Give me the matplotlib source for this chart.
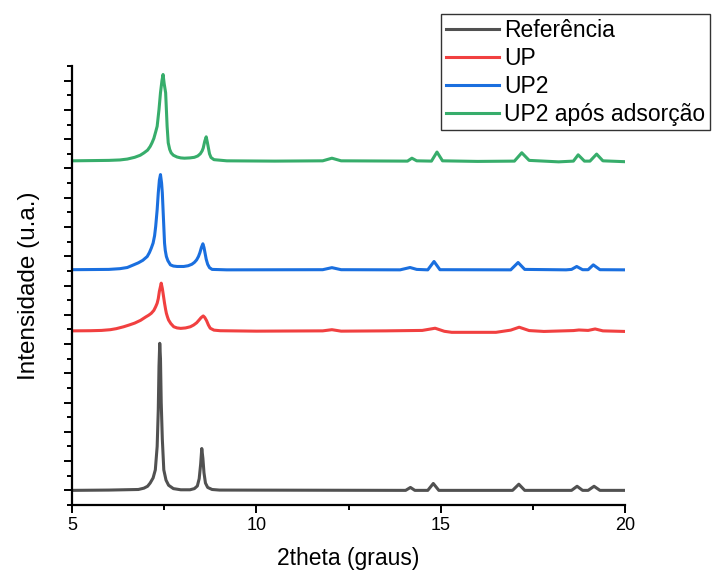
import numpy as np
import matplotlib
matplotlib.use("Agg")
import matplotlib.pyplot as plt
from matplotlib.ticker import MultipleLocator

plt.rcParams['font.family'] = ['Liberation Sans', 'DejaVu Sans']

# valores (2theta em graus, intensidade empilhada em u.a.)
ref_x = [5.0, 6.0, 6.8, 6.95, 7.05, 7.12, 7.2, 7.26, 7.31, 7.34, 7.36, 7.38, 7.4, 7.42, 7.45,
         7.49, 7.55, 7.62, 7.75, 7.95, 8.2, 8.32, 8.4, 8.45, 8.49, 8.52, 8.55, 8.58, 8.62,
         8.68, 8.8, 9.0, 14.05, 14.18, 14.3, 14.65, 14.8, 14.95, 16.95, 17.12, 17.28, 18.55,
         18.7, 18.85, 19.0, 19.16, 19.32, 20.0]
ref_y = [0.0, 0.02, 0.06, 0.15, 0.28, 0.5, 0.85, 1.4, 3.0, 5.5, 8.5, 10.05, 9.0, 6.0, 3.5,
         1.4, 0.7, 0.35, 0.12, 0.04, 0.04, 0.12, 0.3, 0.8, 1.8, 2.86, 2.2, 1.2, 0.5,
         0.2, 0.06, 0.02, 0.0, 0.2, 0.0, 0.0, 0.47, 0.0, 0.0, 0.42, 0.0, 0.0,
         0.28, 0.0, 0.0, 0.28, 0.0, 0.0]

up_x = [5.0, 5.5, 5.8, 6.04, 6.2, 6.4, 6.55, 6.7, 6.86, 7.0, 7.08, 7.15, 7.22, 7.27, 7.31,
        7.34, 7.37, 7.42, 7.45, 7.47, 7.51, 7.54, 7.56, 7.59, 7.62, 7.68, 7.76, 7.85, 7.95,
        8.08, 8.21, 8.3, 8.38, 8.45, 8.5, 8.56, 8.6, 8.65, 8.7, 8.75, 8.85, 9.02, 10.0, 11.8,
        12.05, 12.3, 13.5, 14.5, 14.85, 15.1, 15.3, 16.5, 16.9, 17.13, 17.4, 17.8, 18.6,
        18.75, 19.0, 19.19, 19.4, 20.0]
up_y = [10.9, 10.91, 10.93, 10.98, 11.05, 11.18, 11.3, 11.43, 11.62, 11.85, 11.97, 12.1, 12.3,
        12.55, 12.79, 13.1, 13.6, 14.16, 13.8, 13.47, 12.79, 12.35, 12.1, 11.85, 11.64, 11.4,
        11.18, 11.1, 11.07, 11.1, 11.18, 11.3, 11.45, 11.65, 11.8, 11.92, 11.82, 11.6, 11.3,
        11.08, 10.95, 10.91, 10.88, 10.9, 10.98, 10.88, 10.9, 10.93, 11.08, 10.87, 10.8, 10.8,
        10.95, 11.15, 10.92, 10.86, 10.92, 10.96, 10.93, 11.03, 10.9, 10.86]

up2_x = [5.0, 6.0, 6.3, 6.5, 6.67, 6.8, 6.92, 7.04, 7.1, 7.15, 7.2, 7.24, 7.27, 7.31, 7.34,
         7.37, 7.4, 7.43, 7.45, 7.47, 7.49, 7.51, 7.53, 7.56, 7.6, 7.67, 7.75, 7.85, 8.03,
         8.15, 8.25, 8.32, 8.38, 8.43, 8.47, 8.51, 8.55, 8.58, 8.61, 8.64, 8.68, 8.73, 8.8,
         9.2, 11.8, 12.05, 12.3, 13.9, 14.17, 14.35, 14.65, 14.82, 14.98, 16.9, 17.1, 17.28,
         18.4, 18.55, 18.69, 18.85, 19.0, 19.14, 19.32, 20.0]
up2_y = [15.08, 15.1, 15.15, 15.23, 15.41, 15.55, 15.72, 15.98, 16.25, 16.55, 16.9, 17.4,
         18.04, 19.18, 20.32, 21.2, 21.58, 21.0, 20.32, 19.18, 18.04, 16.9, 16.4, 15.98, 15.7,
         15.41, 15.33, 15.3, 15.3, 15.35, 15.45, 15.58, 15.75, 15.98, 16.25, 16.6, 16.85, 16.6,
         16.2, 15.8, 15.45, 15.22, 15.1, 15.07, 15.08, 15.22, 15.08, 15.07, 15.23, 15.1,
         15.07, 15.64, 15.08, 15.07, 15.57, 15.1, 15.07, 15.1, 15.3, 15.08, 15.08, 15.41,
         15.08, 15.07]

ads_x = [5.0, 6.0, 6.3, 6.5, 6.7, 6.85, 6.95, 7.05, 7.12, 7.17, 7.22, 7.27, 7.31, 7.36, 7.4,
         7.44, 7.47, 7.5, 7.54, 7.56, 7.58, 7.61, 7.65, 7.69, 7.75, 7.85, 7.95, 8.05, 8.2,
         8.32, 8.41, 8.48, 8.53, 8.56, 8.6, 8.64, 8.67, 8.7, 8.73, 8.77, 8.85, 9.2, 10.5,
         11.8, 12.05, 12.3, 14.1, 14.22, 14.35, 14.75, 14.9, 15.05, 16.0, 17.0, 17.2, 17.4,
         18.2, 18.6, 18.73, 18.9, 19.05, 19.23, 19.4, 20.0]
ads_y = [22.52, 22.55, 22.58, 22.64, 22.76, 22.9, 23.06, 23.25, 23.5, 23.75, 24.05, 24.5,
         24.88, 26.03, 27.17, 28.0, 28.42, 27.8, 27.17, 26.03, 24.88, 23.75, 23.3, 23.06,
         22.9, 22.78, 22.72, 22.7, 22.72, 22.76, 22.85, 23.0, 23.2, 23.4, 23.85, 24.16, 23.8,
         23.4, 23.0, 22.75, 22.6, 22.52, 22.5, 22.52, 22.7, 22.52, 22.5, 22.7, 22.52, 22.5,
         23.12, 22.52, 22.48, 22.5, 23.07, 22.55, 22.45, 22.5, 22.93, 22.5, 22.5, 22.98,
         22.52, 22.46]

labels = ['Referência', 'UP', 'UP2', 'UP2 após adsorção']
cores = ['#515151', '#F14040', '#1A6FDF', '#37AD6B']

fig = plt.figure(figsize=(7.12, 5.72), dpi=100)
ax = fig.add_axes([72 / 712, 67 / 572, 553 / 712, 439 / 572])

series = [(ref_x, ref_y), (up_x, up_y), (up2_x, up2_y), (ads_x, ads_y)]
for (sx, sy), lab, c in zip(series, labels, cores):
    ax.plot(sx, sy, color=c, lw=2.2, label=lab)

ax.set_xlim(5, 20)
ax.set_ylim(-1, 29)
ax.xaxis.set_major_locator(MultipleLocator(5))
ax.xaxis.set_minor_locator(MultipleLocator(2.5))
ax.yaxis.set_major_locator(MultipleLocator(2))
ax.yaxis.set_minor_locator(MultipleLocator(1))
ax.set_yticklabels([])

for s in ['top', 'right']:
    ax.spines[s].set_visible(False)
for s in ['left', 'bottom']:
    ax.spines[s].set_linewidth(1.6)

ax.tick_params(which='major', direction='out', length=6, width=1.4, labelsize=13, pad=2.5)
ax.tick_params(which='minor', direction='out', length=3.5, width=1.4)

ax.set_xlabel('2theta (graus)', fontsize=16.5)
ax.set_ylabel('Intensidade (u.a.)', fontsize=17.5)
ax.xaxis.set_label_coords(0.5, -0.095)
ax.yaxis.set_label_coords(-0.058, 0.5)

leg = ax.legend(loc='upper right', bbox_to_anchor=(710 / 712, 1 - 14 / 572),
                bbox_transform=fig.transFigure, borderaxespad=0, fontsize=16.5,
                fancybox=False, framealpha=1, edgecolor='#333333', handlelength=2.3,
                handletextpad=0.25, labelspacing=0.22, borderpad=0.2)
leg.get_frame().set_linewidth(1.0)

fig.savefig('out.png', dpi=100)
